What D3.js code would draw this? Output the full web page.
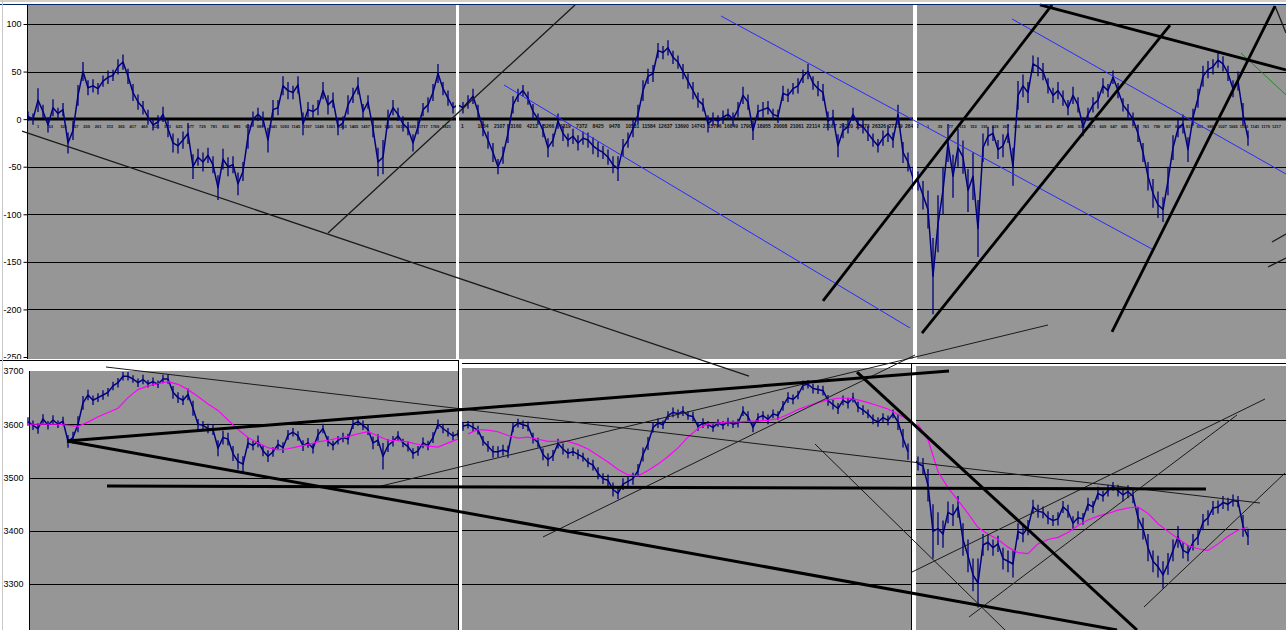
<!DOCTYPE html>
<html>
<head>
<meta charset="utf-8">
<script src="https://cdnjs.cloudflare.com/ajax/libs/d3/7.8.5/d3.min.js"></script>
<style>
  body { margin: 0; background: #fff; overflow: hidden; }
  text { font-family: "Liberation Sans", Arial, sans-serif; }
</style>
</head>
<body>
<div id="chart"></div>
<script>
// Oscillator (top pane), one reading every 5 bars
var spreadValues = [
  3, 0, 20, 8, -6, 12, 6, 10, -25, -12,
  25, 50, 33, 35, 32, 40, 44, 46, 55, 60,
  45, 28, 18, 12, 2, -6, -3, 5, -10, -25,
  -28, -22, -15, -50, -40, -45, -38, -48, -72, -42,
  -50, -48, -68, -55, -18, 0, 5, 0, -22, 10,
  12, 35, 30, 28, 36, -5, 10, 8, 12, 30,
  15, 20, -8, -4, 15, 25, 35, 8, 18, -10,
  -45, -40, 0, 12, 5, -5, -10, -25, -8, 10,
  15, 28, 48, 32, 22, 12, 15, 12, 18, 24,
  8, -10, -22, -35, -50, -38, -15, 15, 25, 30,
  22, 8, 0, -12, -30, -22, -2, -15, -22, -18,
  -25, -20, -22, -28, -32, -35, -40, -48, -52, -30,
  -22, -10, 5, 30, 45, 48, 72, 70, 75, 65,
  60, 50, 40, 30, 20, 15, -5, 0, -2, 2,
  5, 0, 10, 25, 18, -12, 8, 10, 12, 5,
  3, 27, 25, 32, 35, 45, 50, 38, 32, 28,
  -2, 2, -28, -12, -8, 5, -5, -8, -15, -22,
  -28, -20, -15, -22, 5, -35, -45, -62, -65, -80,
  -95, -165, -110, -75, -25, -60, -30, -40, -75, -60,
  -115, -30, -18, -15, -32, -28, -15, -50, 25, 35,
  28, 58, 55, 50, 35, 25, 30, 22, 12, 25,
  15, -8, 5, 15, 20, 35, 30, 44, 30, 15,
  8, 0, -15, -35, -60, -78, -90, -95, -65, -30,
  -10, -5, -32, 2, 22, 45, 52, 55, 62, 58,
  48, 32, 40, 5, -20
];
// high-low span of each 5-bar block of the oscillator
var spreadRange = [
  10, 12, 25, 14, 16, 18, 12, 14, 22, 20,
  22, 20, 16, 14, 12, 12, 14, 12, 16, 16,
  16, 18, 16, 14, 16, 12, 14, 16, 18, 20,
  16, 18, 22, 26, 18, 20, 16, 18, 26, 22,
  20, 18, 24, 20, 26, 16, 14, 16, 26, 20,
  16, 20, 18, 14, 18, 24, 16, 14, 16, 18,
  20, 16, 18, 14, 20, 16, 18, 16, 14, 18,
  30, 36, 20, 16, 14, 16, 14, 18, 16, 14,
  16, 18, 20, 14, 16, 12, 14, 12, 14, 16,
  14, 16, 18, 20, 16, 18, 20, 18, 14, 12,
  14, 16, 12, 14, 20, 14, 16, 16, 14, 16,
  16, 14, 16, 18, 16, 14, 16, 18, 26, 18,
  16, 18, 20, 22, 16, 18, 16, 14, 16, 14,
  14, 16, 16, 18, 16, 14, 18, 14, 12, 14,
  12, 14, 16, 18, 16, 20, 14, 16, 14, 12,
  14, 16, 14, 12, 16, 14, 16, 14, 16, 18,
  20, 16, 24, 16, 14, 14, 12, 14, 16, 14,
  14, 16, 18, 16, 20, 22, 20, 24, 20, 30,
  40, 80, 60, 50, 40, 45, 40, 35, 45, 50,
  60, 30, 20, 16, 20, 24, 20, 40, 30, 24,
  22, 18, 20, 18, 16, 16, 18, 16, 16, 18,
  16, 20, 14, 16, 18, 16, 14, 14, 16, 14,
  16, 14, 18, 20, 30, 30, 28, 26, 30, 26,
  18, 20, 26, 18, 20, 22, 18, 16, 16, 16,
  16, 18, 20, 24, 16
];

// Index price (bottom pane), one reading every 5 bars
var priceValues = [
  3605, 3598, 3592, 3610, 3598, 3608, 3600, 3606, 3568, 3575,
  3600, 3640, 3655, 3645, 3650, 3655, 3660, 3672, 3678, 3690,
  3690, 3685, 3678, 3684, 3676, 3680, 3675, 3685, 3685, 3660,
  3650, 3645, 3656, 3630, 3600, 3598, 3592, 3590, 3555, 3575,
  3572, 3545, 3530, 3525, 3565, 3560, 3568, 3550, 3540, 3548,
  3562, 3556, 3580, 3585, 3578, 3560, 3565, 3555, 3580, 3592,
  3568, 3560, 3570, 3575, 3572, 3600, 3605, 3598, 3590, 3565,
  3570, 3540, 3560, 3568, 3578, 3565, 3558, 3545, 3550, 3565,
  3560, 3575, 3600, 3592, 3585, 3578, 3582, 3592, 3595, 3590,
  3585, 3565, 3555, 3545, 3545, 3548, 3545, 3590, 3598, 3595,
  3592, 3570, 3562, 3540, 3530, 3538, 3560, 3550, 3542, 3545,
  3540, 3535, 3525, 3520, 3505, 3495, 3492, 3475, 3468, 3485,
  3490, 3495, 3510, 3540, 3560, 3590, 3598, 3595, 3612, 3618,
  3615, 3620, 3612, 3610, 3592, 3598, 3595, 3590, 3598, 3594,
  3600, 3596, 3598, 3620, 3610, 3590, 3608, 3612, 3605, 3615,
  3612, 3630, 3645, 3642, 3650, 3668, 3670, 3662, 3660, 3658,
  3640, 3632, 3625, 3640, 3635, 3645, 3628, 3622, 3615, 3605,
  3600, 3608, 3603, 3615, 3600, 3570, 3545, 3530, 3520, 3515,
  3480, 3395, 3400, 3390, 3430, 3425, 3440, 3380, 3350, 3315,
  3300, 3370, 3375, 3365, 3372, 3345, 3340, 3335, 3395, 3390,
  3402, 3440, 3432, 3430, 3420, 3415, 3418, 3440, 3432, 3410,
  3420, 3418, 3445, 3440, 3465, 3460, 3470, 3478, 3470, 3462,
  3468, 3460, 3420, 3400, 3365, 3340, 3330, 3315, 3335, 3360,
  3385, 3360, 3355, 3375, 3385, 3412, 3420, 3438, 3440, 3448,
  3445, 3452, 3450, 3405, 3385
];
// high-low span of each 5-bar block of the price
var priceRange = [
  16, 18, 20, 18, 16, 18, 14, 16, 24, 22,
  30, 26, 20, 18, 16, 18, 16, 16, 18, 16,
  16, 14, 16, 18, 14, 16, 14, 16, 18, 24,
  20, 18, 22, 28, 20, 16, 18, 20, 30, 26,
  24, 28, 30, 30, 20, 18, 22, 20, 22, 18,
  18, 20, 18, 16, 18, 20, 18, 20, 22, 18,
  20, 18, 16, 18, 20, 18, 16, 18, 20, 24,
  22, 50, 24, 20, 18, 16, 18, 20, 18, 20,
  18, 20, 18, 18, 16, 16, 14, 16, 14, 16,
  16, 18, 20, 22, 20, 20, 22, 18, 16, 16,
  18, 20, 18, 22, 24, 20, 18, 20, 18, 16,
  18, 16, 18, 20, 22, 20, 22, 26, 22, 22,
  20, 22, 24, 26, 24, 20, 18, 16, 16, 18,
  16, 18, 16, 18, 16, 18, 14, 16, 14, 16,
  16, 14, 16, 18, 20, 18, 16, 16, 18, 16,
  16, 18, 20, 18, 16, 18, 16, 18, 16, 18,
  20, 18, 20, 18, 20, 18, 20, 18, 16, 18,
  18, 16, 18, 16, 30, 34, 30, 28, 26, 30,
  60, 100, 60, 50, 40, 40, 40, 60, 60, 60,
  90, 40, 30, 30, 30, 40, 40, 50, 30, 30,
  28, 26, 24, 22, 24, 20, 24, 22, 24, 26,
  24, 22, 24, 22, 24, 20, 22, 16, 22, 24,
  24, 26, 40, 40, 50, 40, 40, 50, 40, 40,
  40, 30, 30, 30, 30, 30, 28, 26, 24, 24,
  24, 22, 20, 40, 30
];

// Moving average of the price, one reading every 10 bars
var avgValues = [
  3600, 3600, 3600, 3600, 3598, 3596, 3604, 3614, 3622, 3630,
  3650, 3665, 3672, 3676, 3680, 3675, 3665, 3652, 3638, 3626,
  3608, 3590, 3575, 3565, 3556, 3552, 3554, 3558, 3562, 3567,
  3570, 3574, 3577, 3582, 3586, 3578, 3570, 3569, 3567, 3562,
  3559, 3557, 3565, 3572, 3578, 3586, 3585, 3582, 3575, 3570,
  3572, 3568, 3564, 3564, 3564, 3558, 3550, 3538, 3526, 3512,
  3502, 3500, 3510, 3522, 3536, 3552, 3572, 3588, 3596, 3598,
  3600, 3600, 3601, 3602, 3603, 3606, 3614, 3623, 3630, 3636,
  3641, 3644, 3644, 3641, 3636, 3630, 3624, 3614, 3605, 3592,
  3564, 3505, 3475, 3452, 3428, 3402, 3390, 3380, 3366, 3356,
  3354, 3372, 3380, 3384, 3393, 3406, 3416, 3423, 3428, 3434,
  3438, 3440, 3428, 3409, 3395, 3382, 3369, 3363, 3360, 3372,
  3386, 3397, 3403
];

var priceStep = 5;
var avgStep = 10;

// Axis tick values
var topTicks = [100, 50, 0, -50, -100, -150, -200, -250];
var bottomTicks = [3700, 3600, 3500, 3400, 3300];

// Category labels squeezed under the zero line of each pane
var leftLabels = ["1", "53", "105", "157", "209", "261", "313", "365", "417", "469", "521", "573",
  "625", "677", "729", "781", "833", "885", "937", "989", "1041", "1093", "1145", "1197",
  "1249", "1301", "1353", "1405", "1457", "1509", "1561", "1613", "1665", "1717", "1769", "1821"];
var midLabels = ["1", "1054", "2107", "3160", "4213", "5266", "6319", "7372", "8425", "9478",
  "10531", "11584", "12637", "13690", "14743", "15796", "16849", "17902", "18955", "20008",
  "21061", "22114", "23167", "24220", "25273", "26326", "27379", "28432"];
var rightLabels = ["1", "39", "77", "115", "153", "191", "229", "267", "305", "343", "381",
  "419", "457", "495", "533", "571", "609", "647", "685", "723", "761", "799", "837", "875",
  "913", "951", "989", "1027", "1065", "1103", "1141", "1179", "1217"];

// Hand drawn trend lines, [bar, value] end points
var topThinLines = [
  [[-6, -12.5], [721, -270]],
  [[300, -119.7], [547, 120]],
  [[1247, 118.9], [1258, 90.5]],
  [[1244, -129.1], [1258, -120.7]],
  [[1240, -155.4], [1258, -146]]
];
var topBlueLines = [
  [[476, 35.9], [882, -219.5]],
  [[693, 108.4], [1124, -136.5]],
  [[984, 105.3], [1258, -57.7]]
];
var topThickLines = [
  [[795, -191.1], [1024, 120]],
  [[894, -224.8], [1142, 98.9]],
  [[1084, -223.7], [1247, 118.9]],
  [[1012, 120], [1258, 51.7]]
];
var topGreenLines = [
  [[1213, 69.5], [1258, 25.4]]
];
var bottomThinLines = [
  [[78, 3707.5], [1232, 3452.1]],
  [[353, 3484], [1020, 3786.4]],
  [[515, 3388.3], [887, 3730]],
  [[787, 3562.9], [977, 3213.6]],
  [[884, 3322.5], [1237, 3647.4]],
  [[941, 3238], [1209, 3617.4]],
  [[1116, 3256.8], [1257, 3508.5]]
];
var bottomThickLines = [
  [[39, 3568.5], [921, 3700]],
  [[39, 3568.5], [1089, 3213.6]],
  [[79, 3484], [1178, 3478.4]],
  [[829, 3698], [1109, 3213.6]]
];

// SVG area
var svgWidth = 1286;
var svgHeight = 630;
var plotGray = "#969696";
var navy = "#000080";

var svg = d3.select("#chart")
  .append("svg")
  .attr("width", svgWidth)
  .attr("height", svgHeight)
  .style("display", "block")
  .style("background", "#fff");

// Scales
var xScale = d3.scaleLinear().domain([0, 1258]).range([28, 1286]);
var topY = d3.scaleLinear().domain([-250, 100]).range([357, 24]);

// the bottom pane is three pasted screenshots, each with its own scaling
var sections = [
  { bars: [0, 430], x0: 30, x1: 458, top: 371,
    y: d3.scaleLinear().domain([3300, 3700]).range([584, 371]) },
  { bars: [431, 884], x0: 462, x1: 911, top: 368,
    y: d3.scaleLinear().domain([3300, 3600]).range([584, 422]) },
  { bars: [885, 1258], x0: 916, x1: 1286, top: 366,
    y: d3.scaleLinear().domain([3300, 3600]).range([583, 420]) }
];

function crisp(v) { return Math.round(v) + 0.5; }
function plain(d) { return String(d); }

// draws a close line plus the high-low span of every block
function drawSeries(data, yScale) {
  var line = d3.line()
    .x(function (d) { return xScale(d.bar); })
    .y(function (d) { return yScale(d.value); });

  svg.append("path")
    .datum(data)
    .attr("d", line)
    .attr("fill", "none")
    .attr("stroke", navy)
    .attr("stroke-width", 1.5)
    .attr("stroke-linejoin", "round");

  svg.append("g").selectAll("line")
    .data(data)
    .enter()
    .append("line")
    .attr("x1", function (d) { return xScale(d.bar); })
    .attr("x2", function (d) { return xScale(d.bar); })
    .attr("y1", function (d) { return yScale(d.value + d.range / 2); })
    .attr("y2", function (d) { return yScale(d.value - d.range / 2); })
    .attr("stroke", navy)
    .attr("stroke-width", 1.3);
}

// ---------- top pane ----------
svg.append("rect")
  .attr("x", 28).attr("y", 5)
  .attr("width", svgWidth - 28).attr("height", 354)
  .attr("fill", plotGray);

svg.append("g").selectAll("line")
  .data(topTicks.filter(function (t) { return t !== -250; }))
  .enter()
  .append("line")
  .attr("x1", 28).attr("x2", svgWidth)
  .attr("y1", function (d) { return d === 0 ? Math.round(topY(d)) : crisp(topY(d)); })
  .attr("y2", function (d) { return d === 0 ? Math.round(topY(d)) : crisp(topY(d)); })
  .attr("stroke", "#000")
  .attr("stroke-width", function (d) { return d === 0 ? 3 : 1; });

// squeezed category labels
var labelRows = [
  { labels: leftLabels, range: [37, 442], size: 4 },
  { labels: midLabels, range: [461, 905], size: 5 },
  { labels: rightLabels, range: [927, 1272], size: 4 }
];
labelRows.forEach(function (row) {
  var pos = d3.scalePoint().domain(row.labels).range(row.range);
  svg.append("g").selectAll("text")
    .data(row.labels)
    .enter()
    .append("text")
    .attr("x", function (d) { return pos(d); })
    .attr("y", 128)
    .attr("font-size", row.size)
    .attr("font-weight", "bold")
    .attr("fill", "#111")
    .text(function (d) { return d; });
});

var spreadData = spreadValues.map(function (v, i) {
  return { bar: i * priceStep, value: v, range: spreadRange[i] };
});
drawSeries(spreadData, topY);

// top value axis
var topAxis = svg.append("g")
  .attr("transform", "translate(27.5,0)")
  .call(d3.axisLeft(topY).tickValues(topTicks).tickFormat(plain).tickSize(4).tickPadding(2));
topAxis.select(".domain").remove();
topAxis.selectAll("line").attr("stroke", "#000");
topAxis.selectAll("text").attr("font-size", 9).attr("fill", "#000")
  .style("font-family", "'Liberation Sans', Arial, sans-serif");

svg.append("line")
  .attr("x1", 27.5).attr("x2", 27.5).attr("y1", 5).attr("y2", 360)
  .attr("stroke", "#000");

// ---------- gap between panes ----------
svg.append("rect")
  .attr("x", 0).attr("y", 359)
  .attr("width", svgWidth).attr("height", 14)
  .attr("fill", "#fff");
svg.append("line")
  .attr("x1", 0).attr("x2", 459).attr("y1", 360.5).attr("y2", 360.5)
  .attr("stroke", "#000");
svg.append("line")
  .attr("x1", 459).attr("x2", svgWidth).attr("y1", 363.5).attr("y2", 363.5)
  .attr("stroke", "#000");

// ---------- bottom pane ----------
var priceData = priceValues.map(function (v, i) {
  return { bar: i * priceStep, value: v, range: priceRange[i] };
});
var avgData = avgValues.map(function (v, i) { return { bar: i * avgStep, value: v }; });

sections.forEach(function (s) {
  svg.append("rect")
    .attr("x", s.x0).attr("y", s.top)
    .attr("width", s.x1 - s.x0).attr("height", svgHeight - s.top)
    .attr("fill", plotGray);

  svg.append("g").selectAll("line")
    .data(bottomTicks.filter(function (t) { return s.y(t) > s.top + 2; }))
    .enter()
    .append("line")
    .attr("x1", s.x0).attr("x2", s.x1)
    .attr("y1", function (d) { return crisp(s.y(d)); })
    .attr("y2", function (d) { return crisp(s.y(d)); })
    .attr("stroke", "#000");

  var inSection = function (d) { return d.bar >= s.bars[0] && d.bar <= s.bars[1]; };

  drawSeries(priceData.filter(inSection), s.y);

  var avgLine = d3.line()
    .x(function (d) { return xScale(d.bar); })
    .y(function (d) { return s.y(d.value); });
  svg.append("path")
    .datum(avgData.filter(inSection))
    .attr("d", avgLine)
    .attr("fill", "none")
    .attr("stroke", "#ff00ff")
    .attr("stroke-width", 1.2);
});

// bottom value axis
var bottomAxis = svg.append("g")
  .attr("transform", "translate(29.5,0)")
  .call(d3.axisLeft(sections[0].y).tickValues(bottomTicks).tickFormat(plain).tickSize(0).tickPadding(6));
bottomAxis.select(".domain").remove();
bottomAxis.selectAll("text").attr("font-size", 9).attr("fill", "#000")
  .style("font-family", "'Liberation Sans', Arial, sans-serif");

svg.append("line")
  .attr("x1", 29.5).attr("x2", 29.5).attr("y1", 371).attr("y2", svgHeight)
  .attr("stroke", "#000");

// ---------- seams between the pasted screenshots ----------
svg.append("rect").attr("x", 456).attr("y", 5).attr("width", 3).attr("height", 354).attr("fill", "#fff");
svg.append("rect").attr("x", 913).attr("y", 5).attr("width", 4).attr("height", 354).attr("fill", "#fff");
svg.append("line").attr("x1", 458.5).attr("x2", 458.5).attr("y1", 360).attr("y2", svgHeight).attr("stroke", "#000");
svg.append("rect").attr("x", 459).attr("y", 361).attr("width", 3).attr("height", svgHeight - 361).attr("fill", "#fff");
svg.append("line").attr("x1", 911.5).attr("x2", 911.5).attr("y1", 363).attr("y2", svgHeight).attr("stroke", "#000");
svg.append("rect").attr("x", 912).attr("y", 364).attr("width", 4).attr("height", svgHeight - 364).attr("fill", "#fff");

// ---------- trend lines ----------
function drawLines(lines, yScale, color, width) {
  svg.append("g").selectAll("line")
    .data(lines)
    .enter()
    .append("line")
    .attr("x1", function (d) { return xScale(d[0][0]); })
    .attr("y1", function (d) { return yScale(d[0][1]); })
    .attr("x2", function (d) { return xScale(d[1][0]); })
    .attr("y2", function (d) { return yScale(d[1][1]); })
    .attr("stroke", color)
    .attr("stroke-width", width);
}

drawLines(topThinLines, topY, "#1a1a1a", 1.3);
drawLines(topBlueLines, topY, "#2a2aff", 1);
drawLines(topGreenLines, topY, "#228b22", 1);
drawLines(topThickLines, topY, "#000", 2.8);
drawLines(bottomThinLines, sections[0].y, "#1a1a1a", 1);
drawLines(bottomThickLines, sections[0].y, "#000", 3);

// window frame bits
svg.append("rect").attr("x", 0).attr("y", 0).attr("width", svgWidth).attr("height", 2).attr("fill", "#d4d0c8");
svg.append("line").attr("x1", 0).attr("x2", svgWidth).attr("y1", 4.5).attr("y2", 4.5).attr("stroke", "#0a246a");
svg.append("line").attr("x1", 2.5).attr("x2", 2.5).attr("y1", 0).attr("y2", svgHeight).attr("stroke", "#c8c8c8");
</script>
</body>
</html>
